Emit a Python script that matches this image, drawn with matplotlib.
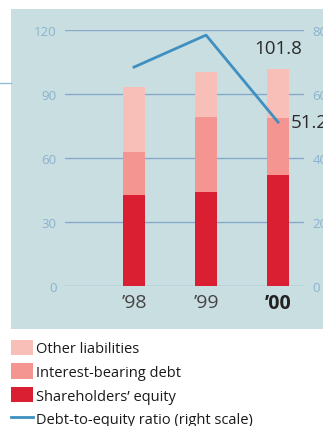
import numpy as np
import matplotlib.pyplot as plt
from matplotlib.patches import Rectangle
from matplotlib.lines import Line2D

plt.rcParams["font.family"] = ["Open Sans", "DejaVu Sans"]

# Data
years = ["\u201998", "\u201999", "\u201900"]
equity = [42.7, 44.1, 52.0]
interest_debt = [20.1, 35.3, 26.8]
other_liab = [30.5, 20.9, 23.0]
total = [93.3, 100.3, 101.8]
de_ratio = [68.4, 78.4, 51.2]

# Colors
bg = "#c9dee1"
c_other = "#f8bfb8"
c_debt = "#f49591"
c_equity = "#da1f33"
c_line = "#3f8fc1"
c_grid = "#86aac8"
c_tick = "#8bb2cf"
c_text = "#2b2b2b"

W, H = 323, 427
fig = plt.figure(figsize=(W / 100, H / 100), dpi=100)
fig.patch.set_facecolor("white")

# panel background
fig.patches.append(Rectangle((11 / W, 1 - 330 / H), 1, 320 / H,
                             transform=fig.transFigure, facecolor=bg,
                             edgecolor="none", zorder=-10))
fig.lines.append(Line2D([0, 11 / W], [1 - 84 / H, 1 - 84 / H],
                        transform=fig.transFigure, color="#8fbdd6", lw=1))

ax = fig.add_axes([65 / W, 1 - 287 / H, 239 / W, 256 / H])
ax.set_zorder(1)
ax.set_facecolor("none")
x = np.arange(len(years))
bw = 0.305

ax.bar(x, equity, bw, color=c_equity, label="Shareholders\u2019 equity", zorder=2)
ax.bar(x, interest_debt, bw, bottom=equity, color=c_debt,
       label="Interest-bearing debt", zorder=2)
ax.bar(x, other_liab, bw, bottom=np.add(equity, interest_debt), color=c_other,
       label="Other liabilities", zorder=2)

ax.set_xlim(-0.958, 2.36)
ax.set_ylim(0, 120)
ax.set_yticks([0, 30, 60, 90, 120])
for v in [0, 30, 60, 90, 120]:
    ax.axhline(v, color=c_grid, lw=1, zorder=1)
for s in ax.spines.values():
    s.set_visible(False)
ax.tick_params(axis="y", length=0, pad=6, labelsize=9.5, labelcolor=c_tick)
ax.set_xticks(x)
ax.set_xticklabels(years, fontsize=14, color="#444444")
ax.get_xticklabels()[2].set_fontweight("bold")
ax.get_xticklabels()[2].set_color("#222222")
ax.tick_params(axis="x", length=0, pad=5)

ax2 = ax.twinx()
ax2.set_zorder(2)
ax2.set_facecolor("none")
ax2.set_ylim(0, 80)
ax2.set_yticks([0, 20, 40, 60, 80])
for s in ax2.spines.values():
    s.set_visible(False)
ax2.tick_params(axis="y", length=0, pad=6, labelsize=9.5, labelcolor=c_tick)
ln, = ax2.plot(x, de_ratio, color=c_line, lw=2, zorder=3,
               label="Debt-to-equity ratio (right scale)")

ax.text(x[2], total[2] + 5.5, f"{total[2]}", ha="center", va="bottom",
        fontsize=13.5, color=c_text)
ax2.text(x[2] + 0.18, de_ratio[2], f"{de_ratio[2]}", ha="left", va="center",
         fontsize=13.5, color=c_text, clip_on=False)

handles, labels = ax.get_legend_handles_labels()
handles = handles[::-1] + [ln]
labels = labels[::-1] + [ln.get_label()]
fig.legend(handles, labels, loc="upper left", bbox_to_anchor=(5 / W, 1 - 335 / H),
           frameon=False, fontsize=10.5, handlelength=1.55, handleheight=1.25,
           handletextpad=0.2, labelspacing=0.48, borderaxespad=0,
           labelcolor="#1a1a1a")

fig.savefig("out.png", dpi=100)
